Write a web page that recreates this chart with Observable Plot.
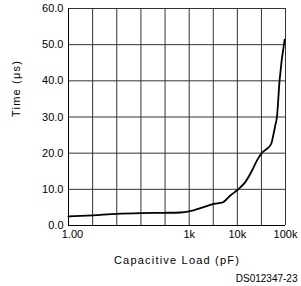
<!DOCTYPE html>
<html>
<head>
<meta charset="utf-8">
<script src="https://cdn.jsdelivr.net/npm/d3@7"></script>
<script src="https://cdn.jsdelivr.net/npm/@observablehq/plot@0.6"></script>
<style>
  html, body { margin: 0; padding: 0; background: #fff; }
  #chart svg { display: block; }
</style>
</head>
<body>
<div id="chart"></div>
<script>
// Capacitive load (pF) and time (µs)
const load = [1, 4, 16, 63, 230, 611, 1000, 2000, 3230, 4820, 7160, 10600, 14600, 20200, 25600, 32500, 41200, 50600, 56500, 61200, 66400, 75200, 96000];
const time = [2.5, 2.8, 3.2, 3.4, 3.5, 3.6, 3.9, 5.1, 6.0, 6.3, 8.3, 10.1, 12.0, 15.2, 18.0, 20.1, 21.2, 22.6, 25.3, 27.6, 30.0, 40.0, 51.4];

// Axis tick / grid values
const yTicks = [0, 10, 20, 30, 40, 50, 60];
const xGrid = [1, 3.981, 15.85, 63.10, 251.2, 1000, 3162, 10000, 31623, 100000];
const xTickLabels = new Map([[1, "1.00"], [1000, "1k"], [10000, "10k"], [100000, "100k"]]);

const xTitle = "Capacitive Load (pF)";
const yTitle = "Time (\u03BCs)";
const note = "DS012347-23";

const data = load.map((c, i) => ({load: c, time: time[i]}));

const chart = Plot.plot({
  width: 301,
  height: 286,
  marginLeft: 68,
  marginRight: 16,
  marginTop: 8,
  marginBottom: 61,
  style: {fontFamily: "'Liberation Sans', Arial, sans-serif", fontSize: "11px", color: "#000", background: "#fff"},
  x: {
    type: "log",
    domain: [1, 1000, 100000],
    range: [68, 188.7, 285],
    ticks: xGrid,
    tickFormat: d => xTickLabels.get(Math.round(d)) ?? "",
    tickSize: 0,
    tickPadding: 5,
    label: null
  },
  y: {
    domain: [0, 60],
    ticks: yTicks,
    tickFormat: d => d.toFixed(1),
    tickSize: 0,
    tickPadding: 5,
    label: null
  },
  marks: [
    Plot.ruleX(xGrid, {stroke: "#333", strokeWidth: 1}),
    Plot.ruleY(yTicks, {stroke: "#333", strokeWidth: 1}),
    Plot.ruleX([1], {stroke: "#000", strokeWidth: 1}),
    Plot.ruleY([0], {stroke: "#000", strokeWidth: 1}),
    Plot.line(data, {x: "load", y: "time", stroke: "#000", strokeWidth: 1.8, curve: "monotone-x"}),
    Plot.text([xTitle], {text: d => d, frameAnchor: "bottom", dy: 38, fontSize: 11, fill: "#000"}),
    Plot.text([yTitle], {text: d => d, frameAnchor: "left", rotate: -90, dx: -52, fontSize: 11, fill: "#000"}),
    Plot.text([note], {text: d => d, frameAnchor: "bottom-right", textAnchor: "end", dx: 12, dy: 56, fontSize: 10, fill: "#000"})
  ]
});

d3.select(chart).selectAll("text").each(function() {
  const t = this.textContent;
  // letter spacing for the axis titles (plotter-style lettering)
  if (t === xTitle || t === yTitle) d3.select(this).style("letter-spacing", "1.2px").style("font-weight", "normal");
  // first x tick label sits slightly right of the axis in the reference
  if (t === "1.00") d3.select(this).attr("dx", "4");
});

document.getElementById("chart").appendChild(chart);
</script>
</body>
</html>
